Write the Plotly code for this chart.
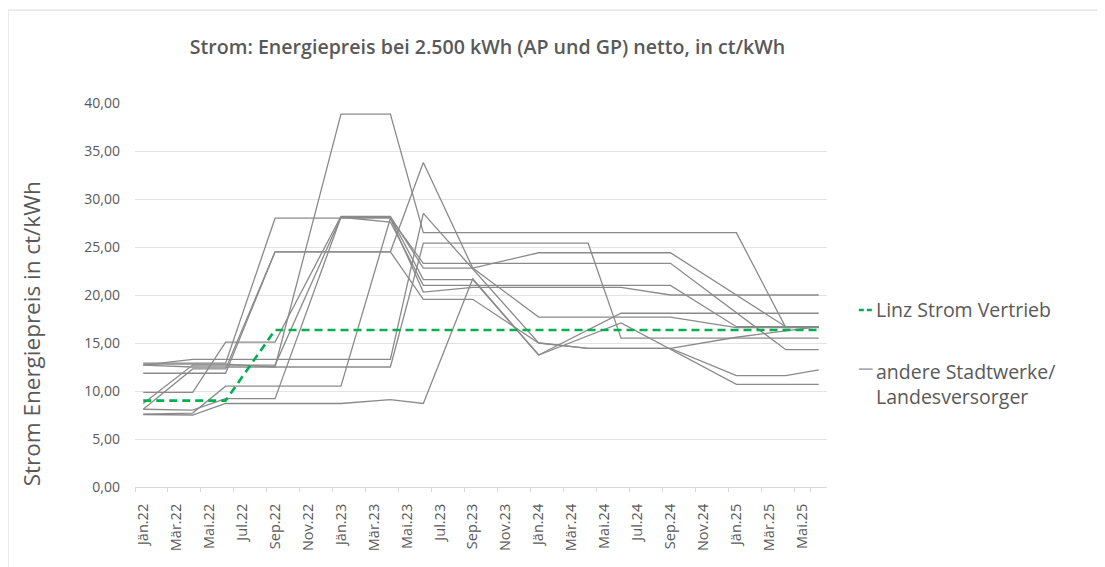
import plotly.graph_objects as go

# ---- data -------------------------------------------------------------
months = [
    "Jän.22", "Feb.22", "Mär.22", "Apr.22", "Mai.22", "Jun.22", "Jul.22", "Aug.22", "Sep.22", "Okt.22", "Nov.22", "Dez.22",
    "Jän.23", "Feb.23", "Mär.23", "Apr.23", "Mai.23", "Jun.23", "Jul.23", "Aug.23", "Sep.23", "Okt.23", "Nov.23", "Dez.23",
    "Jän.24", "Feb.24", "Mär.24", "Apr.24", "Mai.24", "Jun.24", "Jul.24", "Aug.24", "Sep.24", "Okt.24", "Nov.24", "Dez.24",
    "Jän.25", "Feb.25", "Mär.25", "Apr.25", "Mai.25", "Jun.25",
]
tick_labels = [
    "Jän.22", "Mär.22", "Mai.22", "Jul.22", "Sep.22", "Nov.22",
    "Jän.23", "Mär.23", "Mai.23", "Jul.23", "Sep.23", "Nov.23",
    "Jän.24", "Mär.24", "Mai.24", "Jul.24", "Sep.24", "Nov.24",
    "Jän.25", "Mär.25", "Mai.25",
]
# months at which prices were recorded
price_dates = ["Jän.22", "Apr.22", "Jun.22", "Sep.22", "Jän.23", "Apr.23", "Jun.23", "Sep.23",
               "Jän.24", "Apr.24", "Jun.24", "Sep.24", "Jän.25", "Apr.25", "Jun.25"]

linz_strom = [9.0, 9.0, 9.0, 16.35, 16.35, 16.35, 16.35, 16.35, 16.35, 16.35, 16.35, 16.35, 16.35, 16.35, 16.35]

other_suppliers = [
    [12.8, 12.8, 12.8, 12.5, 38.85, 38.85, 26.5, 26.5, 26.5, 26.5, 26.5, 26.5, 26.5, 16.6, 16.6],
    [12.9, 12.9, 12.9, 28.0, 28.0, 28.0, 23.3, 23.3, 23.3, 23.3, 23.3, 23.3, None, 14.3, 14.3],
    [11.85, 11.85, 11.85, 24.5, 24.5, 24.5, 33.8, 22.8, 17.7, 17.7, 17.7, 17.7, 16.6, 16.6, 16.7],
    [9.86, 9.86, 15.1, 15.1, 28.2, 28.2, 22.8, 22.8, 24.4, 24.4, 24.4, 24.4, None, 16.7, 16.7],
    [8.7, 12.7, 12.7, 12.7, 28.1, 28.1, 21.6, 21.6, 13.75, None, 17.1, None, 10.7, 10.7, 10.7],
    [8.1, 8.0, 9.2, 9.2, 28.1, 27.6, 21.0, 21.0, 21.0, 21.0, 21.0, 21.0, 16.7, 16.7, 16.7],
    [12.7, 13.3, 13.3, 13.3, 13.3, 13.3, 28.5, None, 15.0, 14.45, 14.45, 14.45, 11.6, 11.6, 12.2],
    [12.7, 12.5, 12.5, 12.5, 12.5, 12.5, 25.4, 25.4, 25.4, 25.4, 15.5, 15.5, 15.5, 15.5, 15.5],
    [7.6, 7.7, 10.5, 10.5, 10.5, 28.0, 20.3, 20.8, 20.8, 20.8, 20.8, 20.0, 20.0, 20.0, 20.0],
    [7.55, 7.5, 8.7, 8.7, 8.7, 9.1, 8.7, 21.7, 13.75, None, 18.1, 18.1, 18.1, 18.1, 18.1],
    [8.1, 12.3, 12.3, 24.5, 24.5, 24.5, 19.55, 19.55, 15.0, 14.45, 14.45, 14.45, 15.6, None, 16.7],
]

y_ticks = [0, 5, 10, 15, 20, 25, 30, 35, 40]

legend_names = ["Linz Strom Vertrieb", "andere Stadtwerke/<br>Landesversorger"]

# ---- styling ----------------------------------------------------------
TXT = "#595959"
FONT = "Open Sans"
GRAY = "#8a8a8a"
GREEN = "#00b050"

fig = go.Figure()

for vals in other_suppliers:
    fig.add_trace(go.Scatter(
        x=price_dates, y=vals, mode="lines", connectgaps=True,
        line=dict(color=GRAY, width=1.3),
        name="andere Stadtwerke/Landesversorger",
        showlegend=False, hoverinfo="skip",
    ))

fig.add_trace(go.Scatter(
    x=price_dates, y=linz_strom, mode="lines",
    line=dict(color=GREEN, width=2.6, dash="8px,5px"),
    name="Linz Strom Vertrieb", showlegend=False,
))

# hand-made legend (short symbols as in the original)
legend_annotations = [
    dict(text=legend_names[0], x=1.068, y=0.461, xref="paper", yref="paper",
         xanchor="left", yanchor="middle", showarrow=False, align="left",
         font=dict(family=FONT, size=19.5, color=TXT)),
    dict(text=legend_names[1], x=1.068, y=0.268, xref="paper", yref="paper",
         xanchor="left", yanchor="middle", showarrow=False, align="left",
         font=dict(family=FONT, size=19.5, color=TXT)),
    dict(text="Strom Energiepreis in ct/kWh", x=-0.149, y=0.40, xref="paper", yref="paper",
         xanchor="center", yanchor="middle", showarrow=False, textangle=-90,
         font=dict(family=FONT, size=22.5, color=TXT)),
]
legend_shapes = [
    dict(type="line", xref="paper", yref="paper", x0=1.046, x1=1.066, y0=0.461, y1=0.461,
         line=dict(color=GREEN, width=2.6, dash="5px,3px")),
    dict(type="line", xref="paper", yref="paper", x0=1.046, x1=1.066, y0=0.307, y1=0.307,
         line=dict(color=GRAY, width=1.3)),
    dict(type="rect", xref="paper", yref="paper",
         x0=-0.1835, x1=1.45, y0=-0.4, y1=1.242,
         line=dict(color="#d9d9d9", width=1), layer="below"),
]

fig.update_layout(
    width=1105, height=567,
    paper_bgcolor="white", plot_bgcolor="white",
    margin=dict(l=127, r=286, t=95, b=88),
    separators=",.",
    showlegend=False,
    font=dict(family=FONT, color=TXT),
    title=dict(
        text="Strom: Energiepreis bei 2.500 kWh (AP und GP) netto, in ct/kWh",
        x=0.434, xanchor="center", y=0.931, yanchor="middle",
        font=dict(family=FONT, size=19.6, color=TXT, weight=600),
    ),
    xaxis=dict(
        type="category", categoryorder="array", categoryarray=months,
        range=[-0.5, len(months) - 0.5],
        tickmode="array", tickvals=tick_labels, ticktext=tick_labels,
        tickangle=-90, tickson="boundaries",
        ticks="outside", ticklen=4, tickcolor="#d9d9d9",
        ticklabelstandoff=10,
        showline=True, linecolor="#d9d9d9", linewidth=1,
        showgrid=False, zeroline=False,
        tickfont=dict(family=FONT, size=14.5, color=TXT),
    ),
    yaxis=dict(
        range=[0, 40], tickvals=y_ticks, tickformat=".2f",
        showgrid=True, gridcolor="#e3e3e3", gridwidth=1,
        zeroline=False, showline=False, ticks="",
        tickfont=dict(family=FONT, size=14, color=TXT),
        ticklabelstandoff=14,
    ),
    annotations=legend_annotations,
    shapes=legend_shapes,
)

fig.write_html("out.html")
